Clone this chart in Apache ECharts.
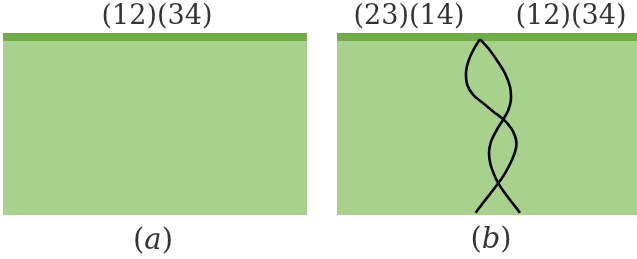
<!DOCTYPE html>
<html>
<head>
<meta charset="utf-8">
<script src="https://cdn.jsdelivr.net/npm/echarts@6/dist/echarts.min.js"></script>
<style>html,body{margin:0;padding:0;background:#fff}#main{width:637px;height:259px}</style>
</head>
<body>
<div id="main"></div>
<script>
// panel rectangles in the 637x259 frame: x0, y0, x1, y1
var panels = [[3, 33, 307, 215], [337, 33, 637, 215]];
var stripBottom = 41;
// labels above the panels: x, y, text
var topLabels = [[157, 17, "(12)(34)"], [409, 17, "(23)(14)"], [571, 17, "(12)(34)"]];
// captions under the panels: x, y, letter
var captions = [[153, 241, "a"], [491, 240, "b"]];
// the two crossing strands in panel (b)
var strandA = [[480, 39.3], [473.3, 50], [468.3, 61.7], [466, 73.3], [467.3, 85], [473.3, 95], [483.3, 103.3],
    [493.3, 111.7], [503.3, 119.3], [511, 128], [515, 136], [516.5, 144], [515, 152], [511, 162], [505, 173.3],
    [498.3, 183.3], [490, 194], [482.7, 203.3], [475.7, 212.7]];
var strandB = [[480, 39.3], [488.3, 48.3], [496.7, 60], [505, 73.3], [510, 86.7], [511, 98.3], [508.3, 110],
    [503.3, 119.3], [496.7, 130], [491, 141.7], [489, 153.3], [490.7, 165], [495, 176.7], [498.3, 183.3],
    [505, 193.3], [512.7, 203.3], [520, 212.7]];

var chart = echarts.init(document.getElementById("main"));

function rect(fill, top) {
    return function (params, api) {
        var p0 = api.coord([api.value(0), top === null ? api.value(1) : top]);
        var p1 = api.coord([api.value(2), top === null ? stripBottom : api.value(3)]);
        return {
            type: "rect",
            shape: {x: p0[0], y: p0[1], width: p1[0] - p0[0], height: p1[1] - p0[1]},
            style: {fill: fill}
        };
    };
}

var textFont = "'DejaVu Serif', serif";

chart.setOption({
    animation: false,
    grid: {left: 0, right: 0, top: 0, bottom: 0},
    xAxis: {type: "value", min: 0, max: 637, show: false},
    yAxis: {type: "value", min: 0, max: 259, inverse: true, show: false},
    series: [
        {type: "custom", renderItem: rect("#a9d18e", stripBottom), data: panels},
        {type: "custom", renderItem: rect("#70ad47", null), data: panels},
        {type: "line", data: strandA, smooth: 0.3, symbol: "none",
            lineStyle: {color: "#000", width: 2.6}},
        {type: "line", data: strandB, smooth: 0.3, symbol: "none",
            lineStyle: {color: "#000", width: 2.6}},
        {type: "scatter", symbolSize: 0, data: topLabels,
            label: {show: true, position: "inside", color: "#000", fontSize: 27, fontFamily: textFont,
                formatter: function (p) { return p.value[2]; }}},
        {type: "scatter", symbolSize: 0, data: captions,
            label: {show: true, position: "inside", color: "#000", fontSize: 29, fontFamily: textFont,
                formatter: function (p) { return "(" + "{i|" + p.value[2] + "})"; },
                rich: {i: {fontSize: 29, color: "#000", fontStyle: "italic", fontFamily: textFont}}}}
    ]
});
</script>
</body>
</html>
